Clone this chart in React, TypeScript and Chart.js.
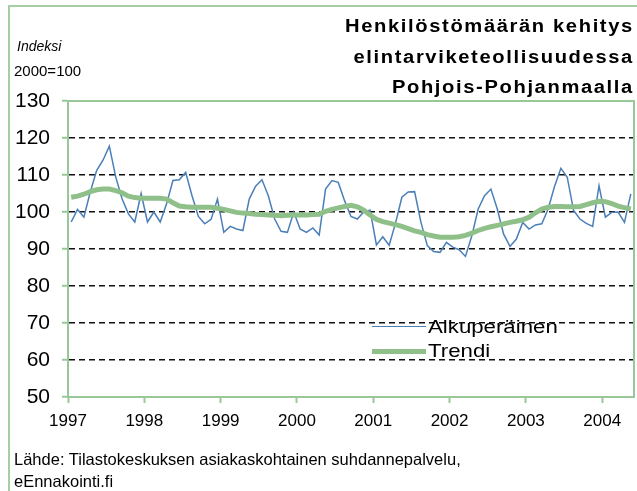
import React, { useEffect, useRef } from "react";
import { Chart, registerables } from "chart.js";

Chart.register(...registerables);

// ---- data ----
const yearLabels = ["1997", "1998", "1999", "2000", "2001", "2002", "2003", "2004"];
const monthsPerYear = 12;

// Monthly index values (2000=100), Jan 1997 .. May 2004
const original1997 = [97.3, 100.7, 98.6, 105.4, 111.2, 114.0, 117.8, 109.5, 103.6, 99.5, 97.3, 105.0];
const original1998 = [97.3, 100.0, 97.3, 102.2, 108.5, 108.7, 110.7, 104.4, 98.8, 96.8, 98.0, 103.5];
const original1999 = [94.5, 96.1, 95.4, 95.0, 103.5, 107.0, 108.7, 104.4, 98.1, 94.8, 94.5, 100.0];
const original2000 = [95.4, 94.5, 95.7, 93.8, 106.2, 108.5, 108.0, 103.0, 98.8, 98.1, 100.0, 100.5];
const original2001 = [91.1, 93.3, 91.0, 97.0, 104.0, 105.4, 105.5, 97.2, 90.9, 89.3, 89.1, 91.8];
const original2002 = [90.5, 89.8, 88.0, 93.6, 100.8, 104.4, 106.2, 100.8, 94.0, 90.7, 92.7, 97.2];
const original2003 = [95.4, 96.5, 96.8, 100.8, 106.9, 111.8, 109.4, 100.4, 98.1, 96.9, 96.1, 107.1];
const original2004 = [98.6, 99.9, 100.0, 97.2, 104.9];

const trend1997 = [104.0, 104.3, 104.8, 105.5, 106.0, 106.2, 106.2, 105.8, 105.2, 104.3, 103.9, 103.7];
const trend1998 = [103.7, 103.7, 103.7, 103.5, 102.5, 101.6, 101.4, 101.3, 101.3, 101.3, 101.3, 101.0];
const trend1999 = [100.7, 100.3, 99.9, 99.7, 99.6, 99.4, 99.3, 99.2, 99.1, 99.0, 99.1, 99.2];
const trend2000 = [99.2, 99.2, 99.3, 99.4, 100.2, 100.7, 101.1, 101.5, 101.8, 101.4, 100.5, 99.2];
const trend2001 = [98.0, 97.4, 97.0, 96.6, 96.1, 95.5, 94.9, 94.5, 93.9, 93.5, 93.2, 93.2];
const trend2002 = [93.2, 93.3, 93.7, 94.3, 95.0, 95.6, 96.0, 96.4, 96.8, 97.2, 97.5, 97.9];
const trend2003 = [98.6, 99.8, 100.8, 101.3, 101.5, 101.5, 101.4, 101.4, 101.5, 102.0, 102.5, 102.9];
const trend2004 = [102.8, 102.3, 101.6, 101.2, 100.8];

const original = [
  ...original1997, ...original1998, ...original1999, ...original2000,
  ...original2001, ...original2002, ...original2003, ...original2004,
];
const trend = [
  ...trend1997, ...trend1998, ...trend1999, ...trend2000,
  ...trend2001, ...trend2002, ...trend2003, ...trend2004,
];

const yMin = 50;
const yMax = 130;
const yStep = 10;

const titleLines = ["Henkilöstömäärän kehitys", "elintarviketeollisuudessa", "Pohjois-Pohjanmaalla"];
const seriesNames = ["Alkuperäinen", "Trendi"];
const sourceLines = ["Lähde: Tilastokeskuksen asiakaskohtainen suhdannepalvelu,", "eEnnakointi.fi"];

// ---- styles ----
const FRAME_GREEN = "#a3cfa3";
const AXIS_GREEN = "#98c898";
const BLUE = "#4a7fb8";
const TREND_GREEN = "#8fc08a";
const FONT = "'Liberation Sans', Arial, sans-serif";

export default function App() {
  const canvasRef = useRef<HTMLCanvasElement | null>(null);

  useEffect(() => {
    const canvas = canvasRef.current;
    if (!canvas) return;
    const nCat = original.length;

    const framePlugin = {
      id: "frame",
      afterDraw(chart: any) {
        const { ctx, chartArea } = chart;
        ctx.save();
        ctx.strokeStyle = AXIS_GREEN;
        ctx.lineWidth = 2;
        ctx.beginPath();
        ctx.moveTo(chartArea.left, chartArea.top);
        ctx.lineTo(chartArea.right, chartArea.top);
        ctx.lineTo(chartArea.right, chartArea.bottom);
        ctx.stroke();
        ctx.restore();
      },
    };

    const chart = new Chart(canvas, {
      type: "line",
      data: {
        datasets: [
          {
            label: seriesNames[0],
            data: original.map((v, i) => ({ x: i + 0.5, y: v })),
            borderColor: BLUE,
            borderWidth: 1.5,
            pointRadius: 0,
            tension: 0,
            order: 2,
          },
          {
            label: seriesNames[1],
            data: trend.map((v, i) => ({ x: i + 0.5, y: v })),
            borderColor: TREND_GREEN,
            borderWidth: 5,
            pointRadius: 0,
            tension: 0,
            order: 1,
          },
        ],
      },
      options: {
        animation: false,
        responsive: false,
        maintainAspectRatio: false,
        layout: { padding: { top: 101, right: 3, left: 0, bottom: 0 } },
        plugins: {
          legend: { display: false },
          tooltip: { enabled: false },
          title: { display: false },
        },
        scales: {
          x: {
            type: "linear",
            min: 0,
            max: nCat,
            afterFit: (s: any) => {
              s.height = 94;
            },
            afterBuildTicks: (s: any) => {
              s.ticks = yearLabels.map((_, k) => ({ value: k * monthsPerYear }));
            },
            ticks: {
              autoSkip: false,
              maxRotation: 0,
              padding: 8,
              color: "#000",
              font: { family: FONT, size: 17 },
              callback: (v: any) => yearLabels[Math.round(Number(v) / monthsPerYear)] ?? "",
            },
            grid: {
              drawOnChartArea: false,
              drawTicks: true,
              tickLength: 6,
              tickColor: AXIS_GREEN,
              tickWidth: 2,
            },
            border: { color: AXIS_GREEN, width: 2 },
          },
          y: {
            type: "linear",
            min: yMin,
            max: yMax,
            afterFit: (s: any) => {
              s.width = 68;
            },
            ticks: {
              stepSize: yStep,
              padding: 12,
              color: "#000",
              font: { family: FONT, size: 21 },
            },
            grid: {
              color: (ctx: any) =>
                ctx.tick && (ctx.tick.value === yMax || ctx.tick.value === yMin) ? "rgba(0,0,0,0)" : "#111",
              lineWidth: 1.5,
              drawTicks: true,
              tickLength: 6,
              tickColor: AXIS_GREEN,
              tickWidth: 2,
              tickBorderDash: [],
            },
            border: { color: AXIS_GREEN, width: 2, dash: [6, 4] },
          },
        },
      },
      plugins: [framePlugin],
    });

    return () => chart.destroy();
  }, []);

  const text: React.CSSProperties = { position: "absolute", fontFamily: FONT, color: "#000", whiteSpace: "nowrap" };

  return (
    <div style={{ position: "fixed", left: 0, top: 0, width: 637, height: 491, background: "#fff", overflow: "hidden" }}>
      <div style={{ position: "absolute", left: 8, top: 5, width: 700, height: 600, border: `2px solid ${FRAME_GREEN}`, boxSizing: "border-box" }} />
      <canvas ref={canvasRef} width={637} height={491} style={{ position: "absolute", left: 0, top: 0, width: 637, height: 491 }} />
      <div
        style={{
          ...text,
          right: 3,
          top: 11,
          textAlign: "right",
          fontWeight: "bold",
          fontSize: 18,
          lineHeight: "30.5px",
          letterSpacing: "1.45px",
          transform: "scaleX(1.12)",
          transformOrigin: "right top",
        }}
      >
        {titleLines.map((l) => (
          <div key={l}>{l}</div>
        ))}
      </div>
      <div style={{ ...text, left: 17, top: 38, fontStyle: "italic", fontSize: 14 }}>Indeksi</div>
      <div style={{ ...text, left: 14, top: 62, fontSize: 15 }}>2000=100</div>
      <div style={{ position: "absolute", left: 372, top: 326, width: 54, height: 0, borderTop: `1.5px solid ${BLUE}` }} />
      <div style={{ ...text, left: 428, top: 316, fontSize: 19, transform: "scaleX(1.17)", transformOrigin: "left top" }}>
        {seriesNames[0]}
      </div>
      <div style={{ position: "absolute", left: 372, top: 349, width: 54, height: 5, background: TREND_GREEN }} />
      <div style={{ ...text, left: 428, top: 340, fontSize: 19, transform: "scaleX(1.17)", transformOrigin: "left top" }}>
        {seriesNames[1]}
      </div>
      <div style={{ ...text, left: 14, top: 448, fontSize: 16.5, lineHeight: "22px" }}>
        {sourceLines.map((l) => (
          <div key={l}>{l}</div>
        ))}
      </div>
    </div>
  );
}
